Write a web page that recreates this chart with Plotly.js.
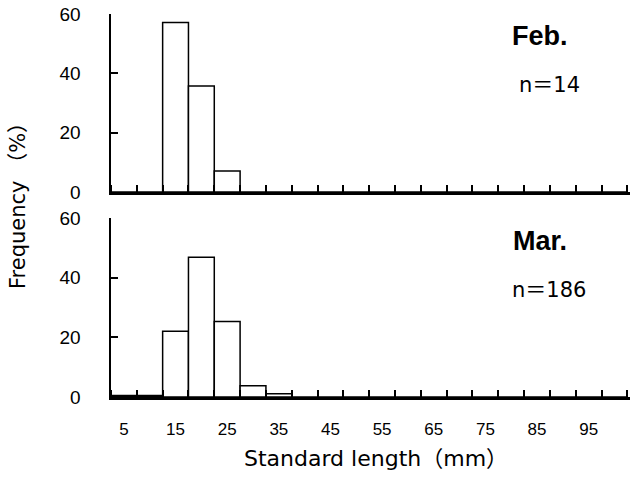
<!DOCTYPE html>
<html>
<head>
<meta charset="utf-8">
<script src="https://cdn.plot.ly/plotly-3.0.1.min.js"></script>
<style>html,body{margin:0;padding:0;background:#fff;}#chart{width:630px;height:491px;}</style>
</head>
<body>
<div id="chart"></div>
<script>
// Class marks of standard length (mm), 5 mm bins
const binCenters = [5, 10, 15, 20, 25, 30, 35, 40, 45, 50, 55, 60, 65, 70, 75, 80, 85, 90, 95, 100];
// Frequency (%) by month
const febFreq = [0, 0, 57.1, 35.7, 7.1, 0, 0, 0, 0, 0, 0, 0, 0, 0, 0, 0, 0, 0, 0, 0];
const marFreq = [0.5, 0.5, 22.0, 46.8, 25.3, 3.8, 1.1, 0, 0, 0, 0, 0, 0, 0, 0, 0, 0, 0, 0, 0];
const xTickLabels = [5, 15, 25, 35, 45, 55, 65, 75, 85, 95];
const yTickLabels = [0, 20, 40, 60];
const panelLabels = ["Feb.", "Mar."];
const sampleLabels = ["n＝14", "n＝186"];

const font = "Liberation Sans, Arial, Noto Sans CJK JP, sans-serif";
const wideFont = "DejaVu Sans, Noto Sans CJK JP, sans-serif";
const barStyle = {color: "#fff", line: {color: "#000", width: 1.5}};

const traces = [
  {type: "bar", x: binCenters, y: febFreq, width: 5, marker: barStyle, xaxis: "x", yaxis: "y", hoverinfo: "x+y"},
  {type: "bar", x: binCenters, y: marFreq, width: 5, marker: barStyle, xaxis: "x2", yaxis: "y2", hoverinfo: "x+y"}
];

function xAxis(showLabels, anchor) {
  return {
    anchor: anchor,
    range: [2.5, 103],
    showline: true, linecolor: "#000", linewidth: 2.5,
    showgrid: false, zeroline: false,
    tickmode: "array", tickvals: xTickLabels, ticktext: xTickLabels.map(String),
    ticks: "", showticklabels: showLabels,
    ticklabelstandoff: 15,
    tickfont: {family: font, size: 17, color: "#000"},
    minor: {tick0: 2.5, dtick: 5, ticks: "inside", ticklen: 7, tickwidth: 2, tickcolor: "#000", showgrid: false}
  };
}
function yAxis(domain, anchor) {
  return {
    domain: domain, anchor: anchor,
    range: [0, 60],
    showline: true, linecolor: "#000", linewidth: 2.5,
    showgrid: false, zeroline: false,
    tickmode: "array", tickvals: yTickLabels, ticktext: yTickLabels.map(String),
    ticks: "inside", ticklen: 7, tickwidth: 2, tickcolor: "#000",
    ticklabelstandoff: 24,
    tickfont: {family: font, size: 19, color: "#000"}
  };
}

const annotations = [];
const labelY = [[36, 85], [241, 290]];
panelLabels.forEach((t, i) => {
  annotations.push({xref: "paper", yref: "paper", x: (540 - 111) / 519, y: 1 - (labelY[i][0] - 14) / 383,
    text: "<b>" + t + "</b>", showarrow: false, xanchor: "center", yanchor: "middle",
    font: {family: font, size: 27, color: "#000"}});
  annotations.push({xref: "paper", yref: "paper", x: (549 - 111) / 519, y: 1 - (labelY[i][1] - 14) / 383,
    text: sampleLabels[i], showarrow: false, xanchor: "center", yanchor: "middle",
    font: {family: wideFont, size: 21, color: "#000"}});
});
annotations.push({xref: "paper", yref: "paper", x: (376 - 111) / 519, y: 1 - (459 - 14) / 383,
  text: "Standard length（mm）", showarrow: false, xanchor: "center", yanchor: "middle",
  font: {family: wideFont, size: 22, color: "#000"}});
annotations.push({xref: "paper", yref: "paper", x: (18 - 111) / 519, y: 1 - (201 - 14) / 383,
  text: "Frequency （%）", showarrow: false, textangle: -90, xanchor: "center", yanchor: "middle",
  font: {family: wideFont, size: 21, color: "#000"}});

const layout = {
  width: 630, height: 491,
  margin: {l: 111, r: 0, t: 14, b: 94},
  paper_bgcolor: "#fff", plot_bgcolor: "#fff",
  showlegend: false, bargap: 0,
  xaxis: xAxis(false, "y"),
  yaxis: yAxis([0.5352, 1], "x"),
  xaxis2: xAxis(true, "y2"),
  yaxis2: yAxis([0, 0.4674], "x2"),
  annotations: annotations
};

Plotly.newPlot("chart", traces, layout, {displayModeBar: false, staticPlot: true});
</script>
</body>
</html>
